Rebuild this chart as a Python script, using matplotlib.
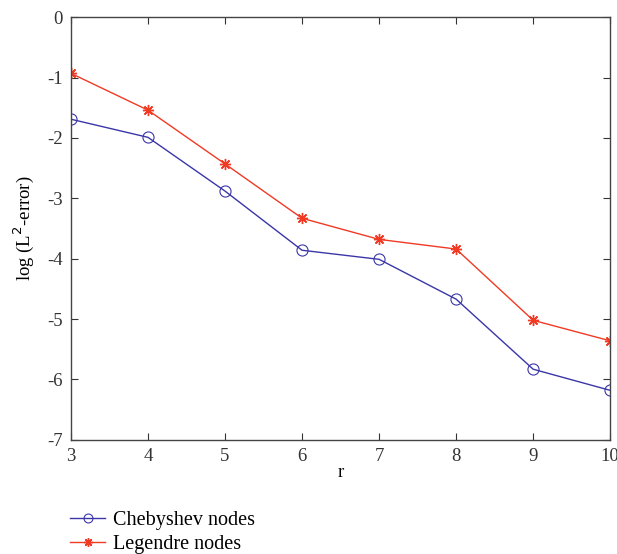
import matplotlib
matplotlib.use('Agg')
from matplotlib import pyplot as plt

r = [3, 4, 5, 6, 7, 8, 9, 10]
chebyshev = [-1.69, -1.99, -2.88, -3.86, -4.01, -4.67, -5.83, -6.18]
legendre = [-0.93, -1.54, -2.43, -3.33, -3.68, -3.84, -5.02, -5.36]

plt.rcParams['font.family'] = ['Liberation Serif', 'DejaVu Serif']
plt.rcParams['font.size'] = 13.5
plt.rcParams['axes.unicode_minus'] = False

fig = plt.figure(figsize=(6.17, 5.54), dpi=100)
ax = fig.add_axes([0.115, 0.206, 0.874, 0.763])

ax.plot(r, chebyshev, color='#3a36a8', lw=1.0, marker='o', markersize=8,
        markerfacecolor='none', markeredgewidth=0.8, label='Chebyshev nodes')
ax.plot(r, legendre, color='#f03a24', lw=1.0, marker=(8, 2, 0), markersize=8,
        markeredgewidth=1.0, label='Legendre nodes')

ax.set_xlim(3, 10)
ax.set_ylim(-7, 0)
ax.set_xticks(r)
ax.set_yticks(range(-7, 1))
ax.tick_params(direction='in', top=True, right=True, length=5, width=0.8,
               colors='#333333', pad=6)
for s in ax.spines.values():
    s.set_color('#444444')
    s.set_linewidth(1.0)

ax.set_xlabel('r', labelpad=-1)
ax.set_ylabel('log (L$^2$-error)', labelpad=8)

fig.legend(loc='lower left', bbox_to_anchor=(0.084, -0.032), frameon=False,
           fontsize=14.5, handlelength=1.75, labelspacing=0.2, handletextpad=0.4,
           markerscale=0.8)

plt.savefig('out.png', dpi=100)
